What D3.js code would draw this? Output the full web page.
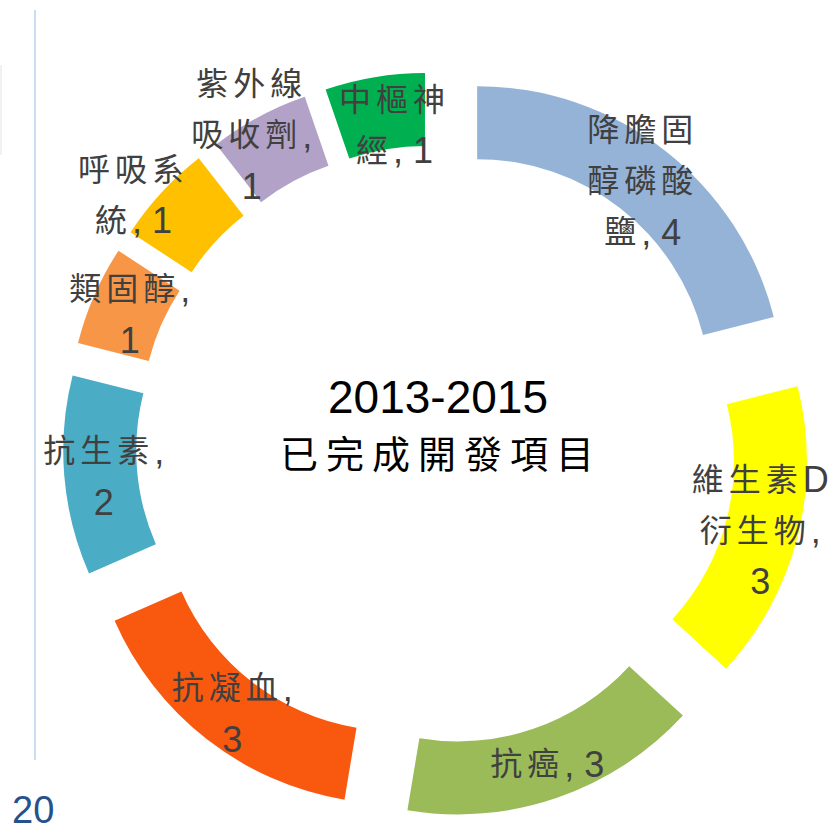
<!DOCTYPE html>
<html>
<head>
<meta charset="utf-8">
<script src="https://cdn.jsdelivr.net/npm/d3@7"></script>
<style>
  body { margin: 0; background: #fff; }
  .lbl { font-family: "Liberation Sans", "Noto Sans CJK TC", sans-serif; fill: #404040; }
  .title { font-family: "Liberation Sans", "Noto Sans CJK TC", sans-serif; fill: #000; }
</style>
</head>
<body>
<svg width="832" height="830"></svg>
<script>
// **** data ****
var categories = ["降膽固醇磷酸鹽", "維生素D衍生物", "抗癌", "抗凝血", "抗生素", "類固醇", "呼吸系統", "紫外線吸收劑", "中樞神經"];
var values = [4, 3, 3, 3, 2, 1, 1, 1, 1];
var labelLines = [
    ["降膽固", "醇磷酸", "鹽, 4"],
    ["維生素D", "衍生物,", "3"],
    ["抗癌, 3"],
    ["抗凝血,", "3"],
    ["抗生素,", "2"],
    ["類固醇,", "1"],
    ["呼吸系", "統, 1"],
    ["紫外線", "吸收劑,", "1"],
    ["中樞神", "經, 1"]
];
var titleLines = ["2013-2015", "已完成開發項目"];
var pageNumber = "20";

// **** layout ****
var colors = ["#95B3D7", "#FFFF00", "#9BBB59", "#F9580F", "#4BACC6", "#F79646", "#FFC000", "#B3A2C7", "#00B050"];
var labelNudge = [[0, 2], [-2, 3], [2, 1], [3, 3], [3, 4], [2, 5], [-55, -22], [-24, -14], [14, 12]];
var cx = 436, cy = 445, outerR = 306, innerR = 233, explode = 67;

var svg = d3.select("svg");

// left decoration
svg.append("line").attr("x1", 35).attr("x2", 35).attr("y1", 10).attr("y2", 760)
    .style("stroke", "#CCDDF2").style("stroke-width", 2);
svg.append("line").attr("x1", 1).attr("x2", 1).attr("y1", 65).attr("y2", 155)
    .style("stroke", "#E4E4E4").style("stroke-width", 1);
svg.append("text").attr("x", 12).attr("y", 823)
    .style("font-family", "Liberation Sans, Arial, sans-serif").style("font-size", "38px")
    .style("fill", "#25528C").text(pageNumber);

var pie = d3.pie().sort(null).value(function (d) { return d; }).startAngle(0).endAngle(2 * Math.PI);
var arc = d3.arc().innerRadius(innerR).outerRadius(outerR);
var arcs = pie(values);

var chart = svg.append("g").attr("transform", "translate(" + cx + "," + cy + ")");

function shift(d) {
    var mid = (d.startAngle + d.endAngle) / 2;
    return [explode * Math.sin(mid), -explode * Math.cos(mid)];
}

chart.selectAll("path.slice").data(arcs).enter().append("path")
    .attr("class", "slice")
    .attr("d", arc)
    .attr("transform", function (d) { var s = shift(d); return "translate(" + s[0] + "," + s[1] + ")"; })
    .style("fill", function (d, i) { return colors[i]; });

// labels at centroid of the exploded slice
var lineH = 51;
var lbl = chart.selectAll("text.lbl").data(arcs).enter().append("text")
    .attr("class", "lbl")
    .attr("text-anchor", "middle");

lbl.each(function (d, i) {
    var c = arc.centroid(d), s = shift(d);
    var x = c[0] + s[0] + labelNudge[i][0];
    var y = c[1] + s[1] + labelNudge[i][1];
    var lines = labelLines[i];
    var t = d3.select(this);
    lines.forEach(function (line, j) {
        var ly = y + (j - (lines.length - 1) / 2) * lineH;
        var tl = t.append("tspan").attr("x", x).attr("y", ly).attr("dominant-baseline", "central");
        // split into CJK and latin runs so numbers are a bit larger
        var runs = line.match(/[\u0000-\u007F]+|[^\u0000-\u007F]+/g);
        runs.forEach(function (r) {
            var latin = /^[\u0000-\u007F]+$/.test(r);
            tl.append("tspan")
                .style("font-size", latin ? "36px" : "32px")
                .style("letter-spacing", latin ? "0px" : "5px")
                .text(r);
        });
    });
});

// center title
chart.append("text").attr("class", "title").attr("text-anchor", "middle")
    .attr("x", 2).attr("y", -48).attr("dominant-baseline", "central")
    .style("font-size", "46px").text(titleLines[0]);
chart.append("text").attr("class", "title").attr("text-anchor", "middle")
    .attr("x", 5).attr("y", 10).attr("dominant-baseline", "central")
    .style("font-size", "38px").style("letter-spacing", "8px").text(titleLines[1]);
</script>
</body>
</html>
